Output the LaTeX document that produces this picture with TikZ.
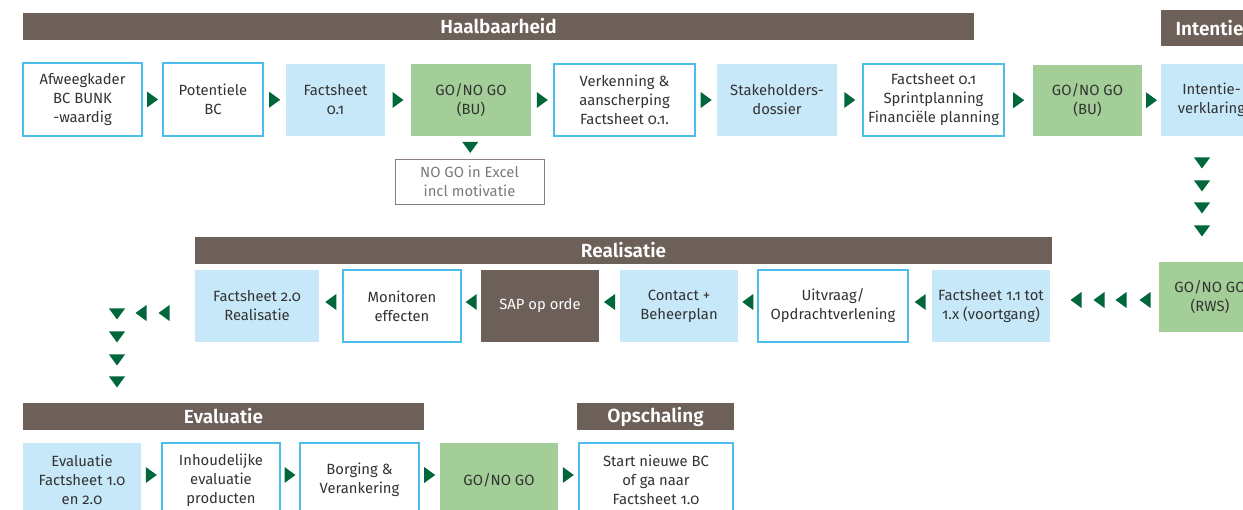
\documentclass[tikz,border=0pt]{standalone}
\usepackage{fontspec}
\setmainfont{Fira Sans}[BoldFont={* SemiBold}, Numbers=OldStyle]
\usetikzlibrary{calc}
\definecolor{brownbar}{HTML}{6C6059}
\definecolor{lblue}{HTML}{C7E8F8}
\definecolor{bluebd}{HTML}{4DBDEB}
\definecolor{lgreen}{HTML}{A3CE97}
\definecolor{agreen}{HTML}{00673A}
\definecolor{txt}{HTML}{333333}
\definecolor{grayb}{HTML}{8C7F78}
\definecolor{grayt}{HTML}{7A7A7A}
\tikzset{
  base/.style={rectangle, inner sep=0pt, align=center, text=txt, font=\fontsize{14.8}{19}\selectfont},
  wbox/.style={base, draw=bluebd, line width=1.2pt, fill=white},
  lbbox/.style={base, fill=lblue},
  gbox/.style={base, fill=lgreen},
  sbox/.style={base, fill=brownbar, text=white},
  nbox/.style={base, draw=grayb, line width=0.9pt, text=grayt},
  bar/.style={rectangle, inner sep=0pt, fill=brownbar, text=white, font=\bfseries\fontsize{19}{21}\selectfont},
  rarr/.pic={\fill[agreen] (-5.5,-8) -- (5.5,0) -- (-5.5,8) -- cycle;},
  larr/.pic={\fill[agreen] (5.5,-8) -- (-5.5,0) -- (5.5,8) -- cycle;},
  darr/.pic={\fill[agreen] (-8,-5.5) -- (8,-5.5) -- (0,5.5) -- cycle;},
}
\newcommand{\bx}[7]{\node[#2, minimum width={#5-#3}, minimum height={#6-#4}] (#1) at ({(#3+#5)/2},{(#4+#6)/2}) {#7};}
\begin{document}
\begin{tikzpicture}[x=1pt,y=-1pt]
\useasboundingbox (0,0) rectangle (1243,510);
\clip (0,0) rectangle (1243,510);
% bars
\bx{hb}{bar}{23}{13}{974}{40}{Haalbaarheid}
\bx{ib}{bar}{1161}{10}{1258}{46}{Intentie}
\bx{rb}{bar}{195}{237}{1052}{264}{Realisatie}
\bx{eb}{bar}{23}{403}{424}{430}{Evaluatie}
\bx{ob}{bar}{577}{403}{734}{430}{Opschaling}
% row 1
\bx{a1}{wbox}{23}{63}{142}{136}{Afweegkader\\BC BUNK\\-waardig}
\bx{a2}{wbox}{163}{63}{263}{136}{Potentiele\\BC}
\bx{a3}{lbbox}{286}{64}{385}{136}{Factsheet\\0.1}
\bx{a4}{gbox}{411}{64}{531}{136}{GO/NO GO\\(BU)}
\bx{a5}{wbox}{554}{64}{695}{136}{Verkenning \&\\aanscherping\\Factsheet 0.1.}
\bx{a6}{lbbox}{717}{64}{837}{136}{Stakeholders-\\dossier}
\bx{a7}{wbox}{863}{64}{1004}{136}{Factsheet 0.1\\Sprintplanning\\Financiële planning}
\bx{a8}{gbox}{1033}{65}{1142}{136}{GO/NO GO\\(BU)}
\bx{a9}{lbbox}{1161}{64}{1262}{136}{Intentie-\\verklaring}
\bx{nogo}{nbox}{395}{159}{544}{204}{NO GO in Excel\\incl motivatie}
% row 2
\bx{b1}{lbbox}{195}{270}{319}{342}{Factsheet 2.0\\Realisatie}
\bx{b2}{wbox}{343}{270}{461}{342}{Monitoren\\effecten}
\bx{b3}{sbox}{481}{270}{599}{342}{SAP op orde}
\bx{b4}{lbbox}{620}{270}{738}{342}{Contact +\\Beheerplan}
\bx{b5}{wbox}{758}{270}{908}{342}{Uitvraag/\\Opdrachtverlening}
\bx{b6}{lbbox}{932}{270}{1050}{342}{Factsheet 1.1 tot\\1.x (voortgang)}
\bx{rws}{gbox}{1159}{262}{1261}{332}{GO/NO GO\\(RWS)}
% row 3
\bx{c1}{lbbox}{23}{443}{141}{517}{Evaluatie\\Factsheet 1.0\\en 2.0}
\bx{c2}{wbox}{162}{443}{280}{517}{Inhoudelijke\\evaluatie\\producten}
\bx{c3}{wbox}{300}{443}{419}{517}{Borging \&\\Verankering}
\bx{c4}{gbox}{440}{443}{558}{517}{GO/NO GO}
\bx{c5}{wbox}{579}{443}{733}{517}{Start nieuwe BC\\of ga naar\\Factsheet 1.0}
% row 1 arrows
\foreach \p/\q in {a1/a2,a2/a3,a3/a4,a4/a5,a5/a6,a6/a7,a7/a8,a8/a9}
  \path ($(\p.east)!0.5!(\q.west)$) pic {rarr};
\path ($(a4.south)!0.5!(nogo.north)$) pic {darr};
\foreach \yy in {163,186,208,231} \path (1202,\yy) pic {darr};
% row 2 arrows
\foreach \xx in {1076,1099,1121,1145} \path (\xx,300) pic {larr};
\foreach \p/\q in {b6/b5,b5/b4,b4/b3,b3/b2,b2/b1}
  \path ($(\p.west)!0.5!(\q.east)+(0,-4)$) pic {larr};
\path (164,313) pic {larr};
\path (141,313) pic {larr};
\foreach \yy in {314,337,360,382} \path (117,\yy) pic {darr};
% row 3 arrows
\foreach \p/\q in {c1/c2,c2/c3,c3/c4,c4/c5}
  \path ($(\p.east)!0.5!(\q.west)+(0,-5)$) pic {rarr};
\end{tikzpicture}
\end{document}
